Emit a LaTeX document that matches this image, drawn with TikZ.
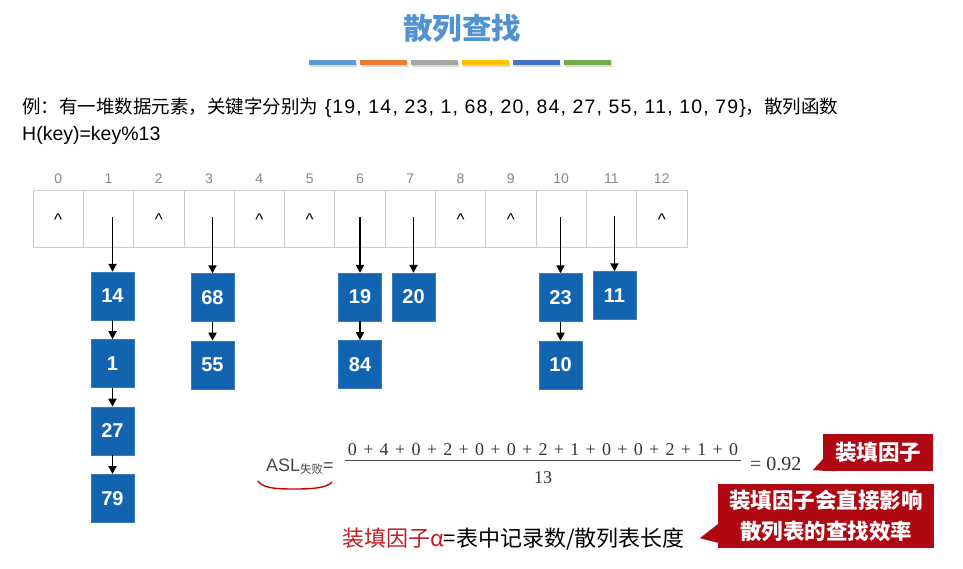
\documentclass[tikz,border=0pt]{standalone}
\usepackage{fontspec}
\setmainfont{Noto Sans CJK SC}
\newfontfamily\cjk{Noto Sans CJK SC}
\newfontfamily\serifnum{Liberation Serif}
\newfontfamily\latinsans{Liberation Sans}
\newfontfamily\latinwide{Liberation Sans}[LetterSpace=6]
\usetikzlibrary{arrows.meta,positioning}

\definecolor{titleblue}{RGB}{80,146,210}
\definecolor{boxblue}{RGB}{18,100,176}
\definecolor{calloutred}{RGB}{176,8,18}
\definecolor{textred}{RGB}{190,30,34}
\definecolor{gridgray}{RGB}{205,205,205}
\definecolor{idxgray}{RGB}{135,135,135}
\definecolor{aslgray}{RGB}{70,70,70}
\definecolor{barblue}{RGB}{91,155,213}
\definecolor{barorange}{RGB}{237,125,49}
\definecolor{bargray}{RGB}{165,165,165}
\definecolor{baryellow}{RGB}{255,192,0}
\definecolor{bardkblue}{RGB}{68,114,196}
\definecolor{bargreen}{RGB}{112,173,71}

\newcommand{\pl}{\hspace{0.35em}+\hspace{0.35em}}

\begin{document}
\begin{tikzpicture}[x=1pt,y=-1pt,
    cell/.style={draw=gridgray, line width=0.8pt, minimum width=50.3pt, minimum height=57pt, inner sep=0pt},
    idx/.style={text=idxgray, font=\latinsans\fontsize{14}{14}\selectfont},
    nil/.style={font=\latinsans\fontsize{17}{17}\selectfont, inner sep=0pt},
    key/.style={fill=boxblue, draw=boxblue!85!white, minimum width=43pt, minimum height=48pt, inner sep=0pt,
        text=white, font=\latinsans\bfseries\fontsize{20}{20}\selectfont},
    link/.style={-{Triangle[length=8pt,width=8pt]}, line width=1.8pt},
    callout/.style={fill=calloutred, text=white, inner sep=0pt, font=\bfseries\fontsize{21.5}{31}\selectfont, align=center},
    node distance=19pt]
    \useasboundingbox (0,0) rectangle (963,568);

    % Title and colour bars
    \node[text=titleblue, font=\bfseries\fontsize{29.5}{29.5}\selectfont] (title) at (462,28) {散列查找};
    \foreach \c [count=\j from 0] in {barblue,barorange,bargray,baryellow,bardkblue,bargreen}
        {
            \fill[black!15] ({309+51*\j+1},62) rectangle +(47,5);
            \fill[\c] ({309+51*\j},60) rectangle +(47,5);
        }

    % Problem statement
    \node[anchor=base west, inner sep=0pt, font=\fontsize{18.5}{18.5}\selectfont] (task) at (22,113)
        {例：有一堆数据元素，关键字分别为{\latinwide\fontsize{19.5}{19.5}\selectfont{} \{19, 14, 23, 1, 68, 20, 84, 27, 55, 11, 10, 79\}}，散列函数};
    \node[anchor=base west, inner sep=0pt, font=\latinsans\fontsize{19.5}{19.5}\selectfont] (hash) at (22,140) {H(key)=key\%13};

    % Hash table
    \foreach \i in {0,...,12}
        {
            \node[cell] (c\i) at ({33+50.3*\i+25.15},218.5) {};
            \node[idx] (i\i) at (c\i.center |- 0,179) {\i};
        }
    \foreach \i in {0,2,4,5,8,9,12}
        \node[nil] (n\i) at ([yshift=-1pt]c\i.center) {\textasciicircum};

    % Chains
    \node[key] (k14) at (112.5,296) {14};
    \node[key, below=of k14] (k1) {1};
    \node[key, below=of k1] (k27) {27};
    \node[key, below=of k27] (k79) {79};
    \node[key] (k68) at (212.5,297.5) {68};
    \node[key, below=of k68] (k55) {55};
    \node[key] (k19) at (360,297) {19};
    \node[key, below=of k19] (k84) {84};
    \node[key] (k20) at (413.5,297) {20};
    \node[key] (k23) at (560.5,297.5) {23};
    \node[key, below=of k23] (k10) {10};
    \node[key] (k11) at (614.5,295.5) {11};

    \draw[link] ([yshift=2pt]k14 |- c1.center) -- (k14);
    \draw[link] ([yshift=2pt]k68 |- c3.center) -- (k68);
    \draw[link] ([yshift=2pt]k19 |- c6.center) -- (k19);
    \draw[link] ([yshift=2pt]k20 |- c7.center) -- (k20);
    \draw[link] ([yshift=2pt]k23 |- c10.center) -- (k23);
    \draw[link] ([yshift=3pt]k11 |- c11.center) -- (k11);
    \draw[link] (k14) -- (k1);
    \draw[link] (k1) -- (k27);
    \draw[link] (k27) -- (k79);
    \draw[link] (k68) -- (k55);
    \draw[link] (k19) -- (k84);
    \draw[link] (k23) -- (k10);

    % ASL formula
    \node[anchor=base west, inner sep=0pt, text=aslgray, font=\latinsans\fontsize{18}{18}\selectfont] (asl) at (266,471)
        {ASL\raisebox{-2pt}{\cjk\fontsize{11.5}{11.5}\selectfont 失败}=};
    \node[inner sep=0pt, font=\serifnum\fontsize{18}{18}\selectfont, text=black!80] (num) at (543,450)
        {0\pl4\pl0\pl2\pl0\pl0\pl2\pl1\pl0\pl0\pl2\pl1\pl0};
    \node[inner sep=0pt, font=\serifnum\fontsize{18}{18}\selectfont, text=black!80] (den) at (543,478) {13};
    \draw[aslgray, line width=0.7pt] ([xshift=-3pt,yshift=-4pt]num.south west) -- ([xshift=3pt,yshift=-4pt]num.south east);
    \node[anchor=west, inner sep=0pt, font=\serifnum\fontsize{20}{20}\selectfont, text=black!80] (res) at (750,464) {= 0.92};
    \draw[red!80!black, line width=1.4pt, line cap=round] (258,481) .. controls (263,489) and (280,489) .. (295,489)
        .. controls (312,489) and (327,488) .. (332,482);

    % Callouts
    \node[callout, minimum width=110pt, minimum height=37pt] (fill1) at (878,452.5) {装填因子};
    \fill[calloutred] ([yshift=12pt]fill1.south west) -- ++(-10pt,-11pt) -- ([xshift=14pt]fill1.south west) -- cycle;
    \node[callout, minimum width=216pt, minimum height=64pt] (fill2) at (826,516) {装填因子会直接影响\\散列表的查找效率};
    \fill[calloutred] ([yshift=24pt]fill2.south west) -- ++(-18pt,-14pt) -- ([xshift=22pt]fill2.south west) -- cycle;

    % Load factor
    \node[anchor=base west, inner sep=0pt, font=\fontsize{22}{22}\selectfont] (alpha) at (342,546)
        {\textcolor{textred}{装填因子α}=表中记录数/散列表长度};
\end{tikzpicture}
\end{document}
